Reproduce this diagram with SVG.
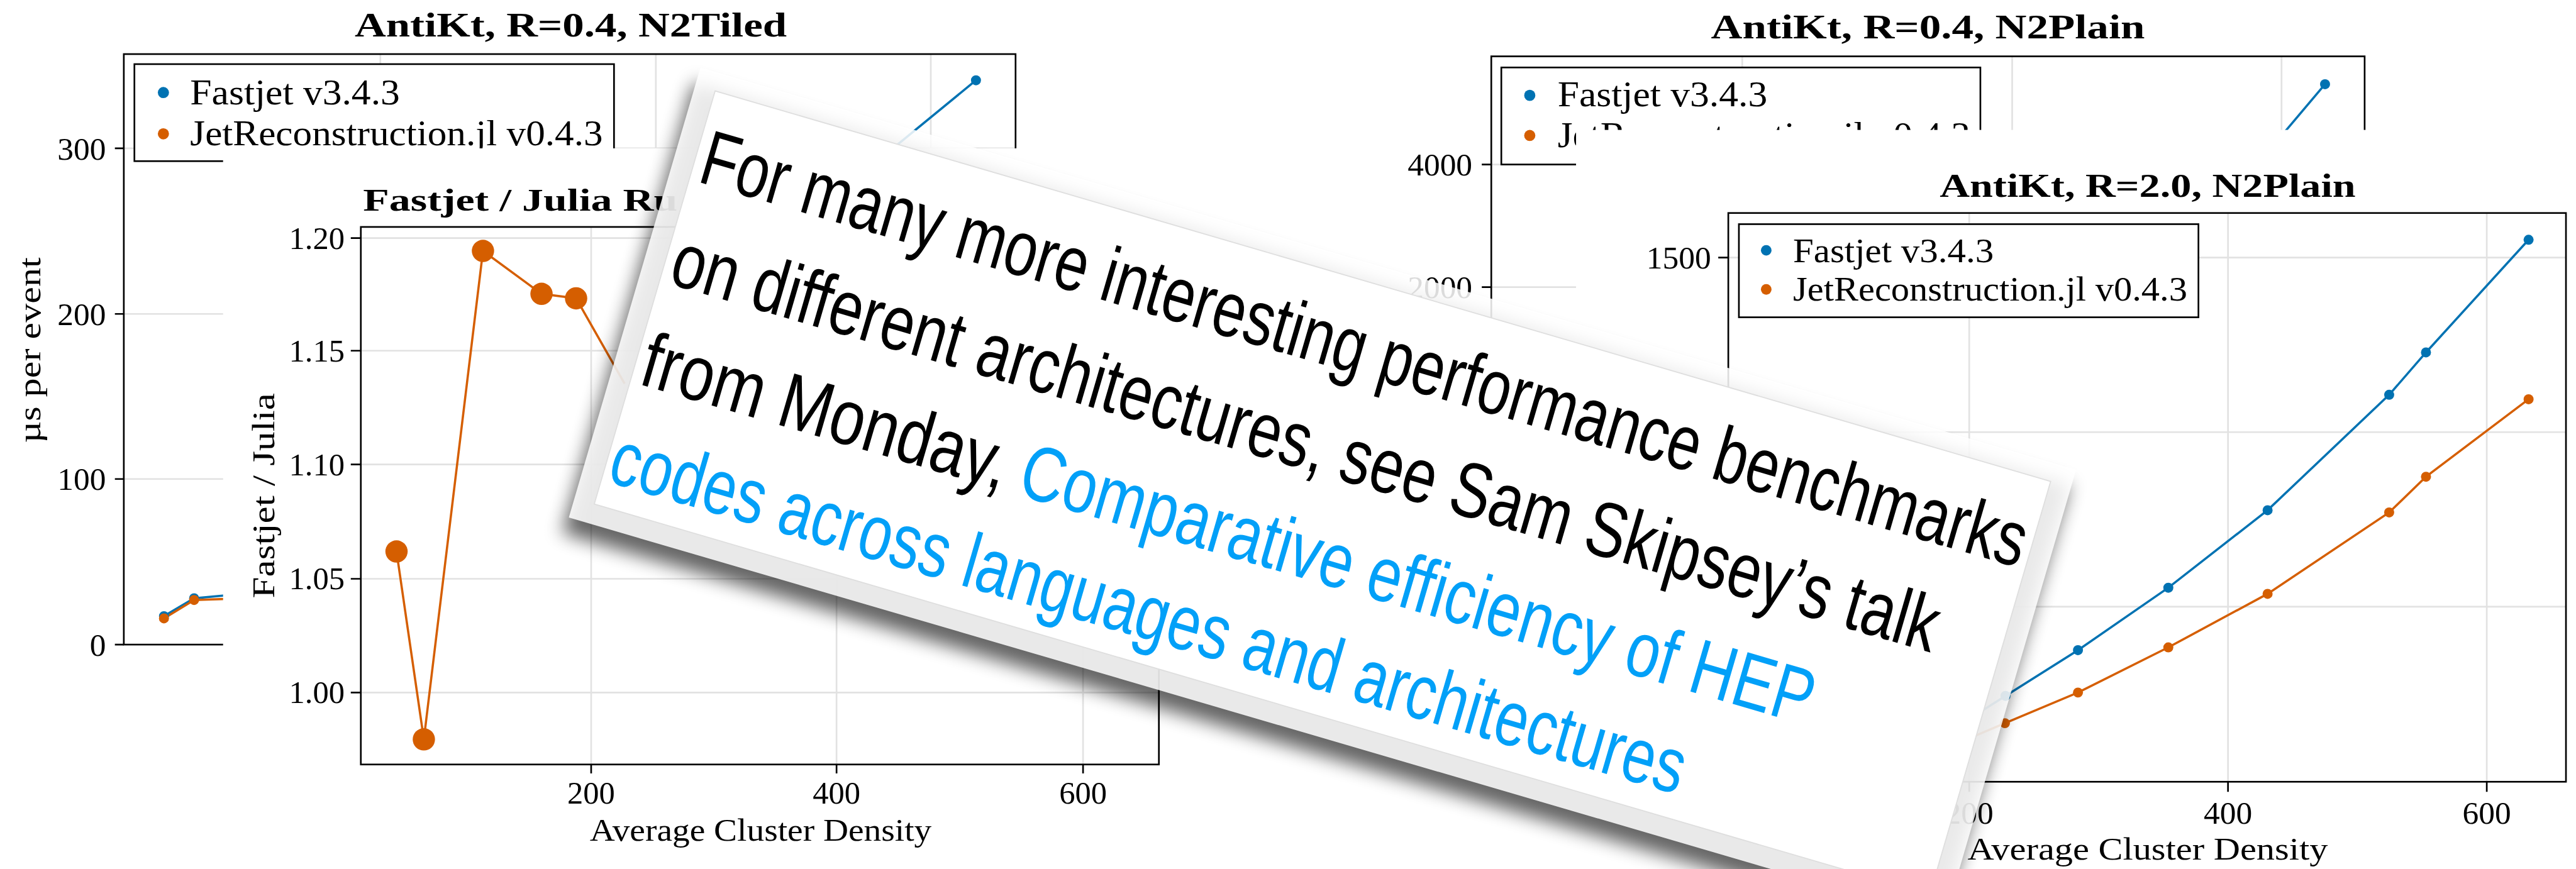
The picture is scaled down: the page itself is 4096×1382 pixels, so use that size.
<svg xmlns="http://www.w3.org/2000/svg" width="4096" height="1382" viewBox="0 0 4096 1382">
<style>
.s{font-family:"Liberation Serif","DejaVu Serif",serif;fill:#000}
.ti{font-weight:bold;font-size:62px}
.lg{font-size:64px}
.tk{font-size:58px}
.ax{font-size:57px}
.gr{stroke:#e2e2e2;stroke-width:3;fill:none}
.sp{stroke:#000;stroke-width:3;fill:none}
.tm{stroke:#000;stroke-width:3}
.bl{stroke:#0072b2;stroke-width:4;fill:none}
.or{stroke:#d55e00;stroke-width:4;fill:none}
.bd{fill:#0072b2}
.od{fill:#d55e00}
.lb{fill:#fff;stroke:#000;stroke-width:3}
.h{font-family:"Liberation Sans","Arimo",sans-serif;font-size:140px;fill:#000}
.lk{fill:#02a0f8}
</style>
<defs>
<filter id="sh" x="-10%" y="-25%" width="120%" height="150%">
<feGaussianBlur stdDeviation="16"/>
</filter>
</defs>
<rect width="4096" height="1382" fill="#fff"/>
<g transform="scale(0.886772)">

<!-- Panel 1: AntiKt R=0.4 N2Tiled -->
<g id="panel-n2tiled">
<text class="s ti" x="636" y="65" textLength="775" lengthAdjust="spacingAndGlyphs">AntiKt, R=0.4, N2Tiled</text>
<path class="gr" d="M682 97V1156M1176 97V1156M1669 97V1156M222 266H1821M222 563H1821M222 859H1821"/>
<rect class="sp" x="222" y="97" width="1599" height="1059"/>
<path class="tm" d="M206 266H222M206 563H222M206 859H222M206 1156H222"/>
<g class="s tk" text-anchor="end">
<text x="190" y="286">300</text>
<text x="190" y="583">200</text>
<text x="190" y="879">100</text>
<text x="190" y="1176">0</text>
</g>
<text class="s ax" transform="translate(72 628) rotate(-90)" text-anchor="middle" textLength="333" lengthAdjust="spacingAndGlyphs">µs per event</text>
<polyline class="bl" points="294,1105 348,1073 467,1062"/>
<polyline class="or" points="294,1109 348,1076 467,1072"/>
<circle class="bd" cx="294" cy="1105" r="9"/><circle class="bd" cx="348" cy="1073" r="9"/>
<circle class="od" cx="294" cy="1109" r="9"/><circle class="od" cx="348" cy="1076" r="9"/>
<polyline class="bl" points="1556,303 1750,144"/>
<circle class="bd" cx="1750" cy="144" r="9"/>
<rect class="lb" x="241" y="115" width="860" height="174"/>
<circle class="bd" cx="293" cy="166" r="10"/>
<circle class="od" cx="293" cy="240" r="10"/>
<text class="s lg" x="341" y="187" textLength="376" lengthAdjust="spacingAndGlyphs">Fastjet v3.4.3</text>
<text class="s lg" x="341" y="261" textLength="740" lengthAdjust="spacingAndGlyphs">JetReconstruction.jl v0.4.3</text>
</g>

<!-- Panel 2: AntiKt R=0.4 N2Plain -->
<g id="panel-n2plain-r04">
<text class="s ti" x="3068" y="69" textLength="778" lengthAdjust="spacingAndGlyphs">AntiKt, R=0.4, N2Plain</text>
<path class="gr" d="M3124 101V600M3608 101V600M4091 101V600M2674 295H4240M2674 515H4240"/>
<path class="sp" d="M2674 1000V101H4240V600"/>
<path class="tm" d="M2657 295H2674M2657 515H2674"/>
<g class="s tk" text-anchor="end">
<text x="2640" y="315">4000</text>
<text x="2640" y="535">2000</text>
</g>
<polyline class="bl" points="4169,151 4060,280"/>
<circle class="bd" cx="4169" cy="151" r="9"/>
<rect class="lb" x="2692" y="121" width="859" height="174"/>
<circle class="bd" cx="2743" cy="171" r="10"/>
<circle class="od" cx="2743" cy="243" r="10"/>
<text class="s lg" x="2793" y="191" textLength="376" lengthAdjust="spacingAndGlyphs">Fastjet v3.4.3</text>
<text class="s lg" x="2793" y="264" textLength="740" lengthAdjust="spacingAndGlyphs">JetReconstruction.jl v0.4.3</text>
</g>

<!-- Inset: Fastjet / Julia ratio -->
<g id="panel-ratio">
<rect x="400" y="266" width="2000" height="1292" fill="#fff"/>
<text class="s ti" x="651" y="378" style="font-size:58px" textLength="564" lengthAdjust="spacingAndGlyphs">Fastjet / Julia Ru</text>
<path class="gr" d="M1060 407V1371M1500 407V1371M1942 407V1371M647 427H2078M647 629H2078M647 833H2078M647 1038H2078M647 1242H2078"/>
<rect class="sp" x="647" y="407" width="1431" height="964"/>
<path class="tm" d="M629 427H647M629 629H647M629 833H647M629 1038H647M629 1242H647M1060 1371V1387M1500 1371V1387M1942 1371V1387"/>
<g class="s ax" text-anchor="end">
<text x="618" y="446">1.20</text>
<text x="618" y="648">1.15</text>
<text x="618" y="852">1.10</text>
<text x="618" y="1057">1.05</text>
<text x="618" y="1261">1.00</text>
</g>
<g class="s ax" text-anchor="middle">
<text x="1060" y="1441">200</text>
<text x="1500" y="1441">400</text>
<text x="1942" y="1441">600</text>
</g>
<text class="s ax" x="1364" y="1508" text-anchor="middle" textLength="613" lengthAdjust="spacingAndGlyphs">Average Cluster Density</text>
<text class="s ax" transform="translate(492 889) rotate(-90)" text-anchor="middle" textLength="368" lengthAdjust="spacingAndGlyphs">Fastjet / Julia</text>
<polyline class="or" points="711,989 760,1326 866,450 971,527 1033,535 1120,688"/>
<circle class="od" cx="711" cy="989" r="20"/>
<circle class="od" cx="760" cy="1326" r="20"/>
<circle class="od" cx="866" cy="450" r="20"/>
<circle class="od" cx="971" cy="527" r="20"/>
<circle class="od" cx="1033" cy="535" r="20"/>
</g>

<!-- Panel 3: AntiKt R=2.0 N2Plain -->
<g id="panel-n2plain-r20">
<rect x="2826" y="233" width="1793" height="1325" fill="#fff"/>
<text class="s ti" x="3478" y="353" style="font-size:60px" textLength="746" lengthAdjust="spacingAndGlyphs">AntiKt, R=2.0, N2Plain</text>
<path class="gr" d="M3531 382V1402M3995 382V1402M4459 382V1402M3099 462H4601M3099 775H4601M3099 1088H4601"/>
<rect class="sp" x="3099" y="382" width="1502" height="1020"/>
<path class="tm" d="M3081 462H3099M3531 1402V1420M3995 1402V1420M4459 1402V1420"/>
<text class="s tk" x="3068" y="482" text-anchor="end">1500</text>
<g class="s tk" text-anchor="middle">
<text x="3531" y="1477">200</text>
<text x="3995" y="1477">400</text>
<text x="4459" y="1477">600</text>
</g>
<text class="s tk" x="3851" y="1541" text-anchor="middle" textLength="646" lengthAdjust="spacingAndGlyphs">Average Cluster Density</text>
<polyline class="bl" points="3503,1307 3596,1248 3726,1166 3888,1054 4066,915 4284,708 4350,632 4534,430"/>
<polyline class="or" points="3470,1350 3595,1297 3726,1242 3888,1161 4066,1065 4284,919 4350,855 4534,716"/>
<g class="bd">
<circle cx="3596" cy="1248" r="9"/><circle cx="3726" cy="1166" r="9"/><circle cx="3888" cy="1054" r="9"/><circle cx="4066" cy="915" r="9"/><circle cx="4284" cy="708" r="9"/><circle cx="4350" cy="632" r="9"/><circle cx="4534" cy="430" r="9"/>
</g>
<g class="od">
<circle cx="3595" cy="1297" r="9"/><circle cx="3726" cy="1242" r="9"/><circle cx="3888" cy="1161" r="9"/><circle cx="4066" cy="1065" r="9"/><circle cx="4284" cy="919" r="9"/><circle cx="4350" cy="855" r="9"/><circle cx="4534" cy="716" r="9"/>
</g>
<rect class="lb" x="3118" y="402" width="824" height="167"/>
<circle class="bd" cx="3167" cy="449" r="9.5"/>
<circle class="od" cx="3167" cy="519" r="9.5"/>
<text class="s lg" x="3215" y="470" style="font-size:61px" textLength="360" lengthAdjust="spacingAndGlyphs">Fastjet v3.4.3</text>
<text class="s lg" x="3215" y="539" style="font-size:61px" textLength="707" lengthAdjust="spacingAndGlyphs">JetReconstruction.jl v0.4.3</text>
</g>

<!-- Card overlay -->
<g id="card" transform="translate(1256 121) rotate(16.3)">
<rect x="-4" y="30" width="2570" height="841" fill="#000" opacity="0.6" filter="url(#sh)"/>
<rect x="0" y="0" width="2570" height="841" fill="#fff" fill-opacity="0.86"/>
<rect x="37" y="33" width="2495" height="772" fill="#fff" stroke="#dedede" stroke-width="2"/>
<text class="h" x="50" y="198" textLength="2470" lengthAdjust="spacingAndGlyphs">For many more interesting performance benchmarks</text>
<text class="h" x="51" y="388" textLength="2360" lengthAdjust="spacingAndGlyphs">on different architectures, see Sam Skipsey’s talk</text>
<text class="h" x="50" y="576" textLength="680" lengthAdjust="spacingAndGlyphs">from Monday,</text>
<text class="h lk" x="757" y="576" textLength="1476" lengthAdjust="spacingAndGlyphs">Comparative efficiency of HEP</text>
<text class="h lk" x="45" y="760" textLength="2002" lengthAdjust="spacingAndGlyphs">codes across languages and architectures</text>
</g>
</g>
</svg>
